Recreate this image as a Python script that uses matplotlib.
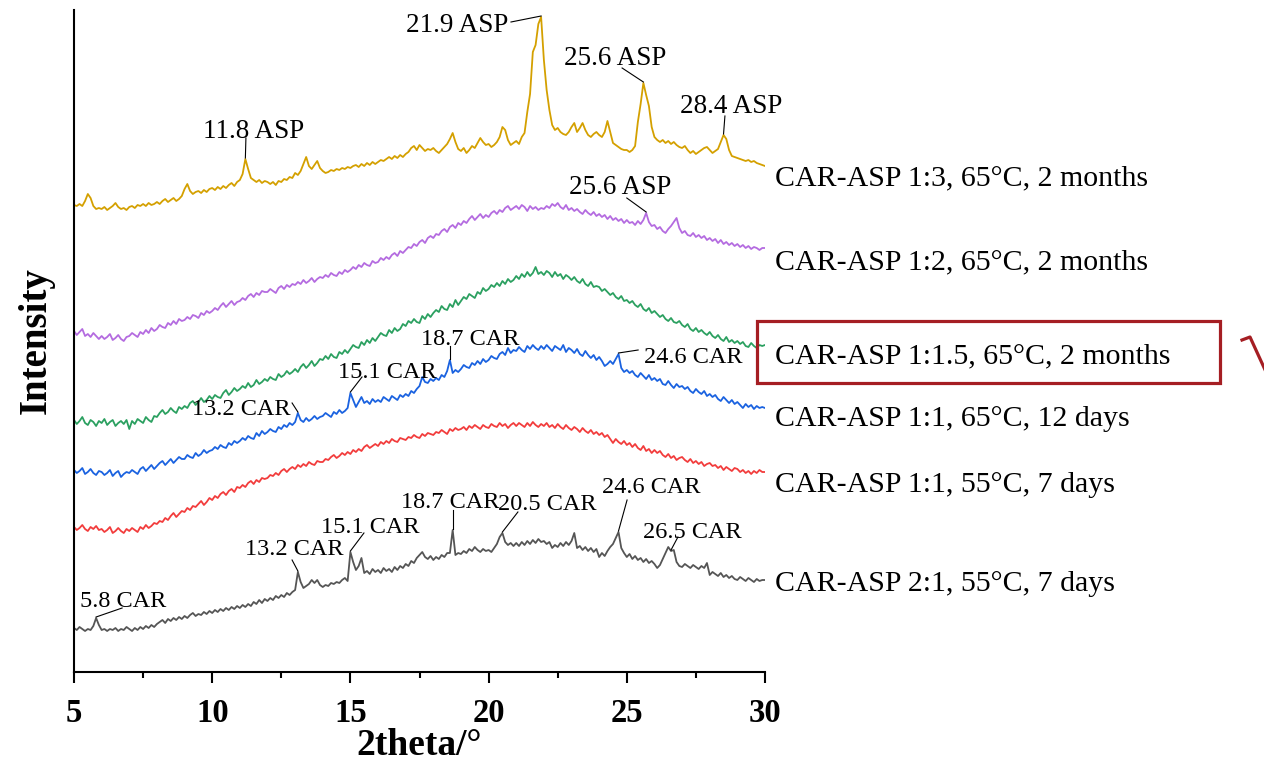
import numpy as np
import matplotlib
matplotlib.use("Agg")
import matplotlib.pyplot as plt
from matplotlib.patches import Rectangle
from matplotlib.lines import Line2D

plt.rcParams['font.family'] = ['Liberation Serif', 'DejaVu Serif']

# scan positions, 2theta from 5 to 30 degrees in 0.1 degree steps
two_theta = np.round(5 + 0.1 * np.arange(251), 1)

# stacked (offset) intensities, one row per degree
car_asp_13 = [
    467, 466, 468, 466, 471, 478, 474, 466, 463, 464,
    463, 465, 462, 464, 466, 469, 465, 463, 464, 462,
    465, 466, 464, 467, 466, 468, 466, 469, 467, 468,
    470, 468, 471, 473, 470, 472, 474, 471, 473, 476,
    483, 488, 481, 478, 480, 481, 479, 482, 480, 483,
    484, 482, 485, 483, 486, 484, 487, 489, 486, 490,
    492, 498, 513, 503, 494, 492, 490, 492, 489, 491,
    490, 488, 490, 487, 491, 490, 493, 492, 495, 494,
    499, 497, 501, 508, 515, 506, 503, 507, 511, 504,
    501, 499, 500, 502, 501, 503, 502, 504, 503, 505,
    504, 506, 507, 505, 508, 506, 509, 507, 510, 508,
    510, 512, 511, 513, 515, 513, 516, 514, 517, 515,
    518, 520, 524, 526, 522, 527, 524, 521, 523, 522,
    524, 521, 519, 522, 525, 528, 533, 539, 530, 523,
    521, 524, 519, 522, 526, 524, 529, 534, 530, 527,
    528, 525, 527, 530, 535, 545, 542, 532, 527, 529,
    531, 528, 535, 539, 560, 578, 620, 627, 648, 655,
    612, 582, 562, 547, 542, 544, 540, 538, 537, 540,
    545, 549, 540, 544, 549, 542, 537, 535, 538, 540,
    537, 535, 540, 551, 540, 529, 527, 525, 523, 522,
    522, 520, 522, 526, 550, 568, 589, 577, 566, 545,
    535, 532, 530, 532, 529, 531, 528, 530, 527, 525,
    524, 526, 522, 519, 521, 518, 520, 522, 524, 525,
    522, 519, 521, 523, 530, 537, 533, 522, 516, 515,
    514, 513, 512, 511, 512, 510, 511, 509, 508, 507,
    506]

car_asp_12 = [
    341, 337, 340, 343, 336, 338, 335, 339, 336, 333,
    336, 333, 335, 338, 332, 334, 337, 333, 331, 335,
    336, 339, 337, 335, 340, 338, 342, 339, 344, 341,
    343, 347, 345, 344, 349, 347, 351, 348, 353, 351,
    352, 355, 353, 357, 356, 354, 359, 357, 361, 359,
    361, 364, 362, 366, 369, 365, 368, 371, 367, 370,
    371, 374, 372, 376, 378, 375, 379, 377, 381, 380,
    380, 383, 381, 379, 384, 386, 383, 387, 385, 388,
    387, 390, 388, 392, 389, 391, 394, 390, 393, 395,
    394, 397, 395, 399, 397, 396, 400, 398, 402, 400,
    402, 405, 403, 407, 405, 409, 407, 406, 411, 409,
    410, 414, 412, 415, 413, 417, 419, 416, 421, 419,
    422, 425, 424, 428, 426, 430, 432, 429, 434, 436,
    434, 438, 437, 441, 443, 440, 445, 447, 444, 449,
    447, 451, 449, 453, 456, 452, 455, 458, 454, 457,
    455, 459, 461, 458, 462, 460, 464, 466, 462, 464,
    466, 463, 467, 465, 461, 466, 463, 465, 462, 464,
    463, 466, 464, 468, 466, 469, 465, 463, 467, 462,
    464, 461, 463, 460, 458, 462, 459, 457, 460, 456,
    458, 455, 457, 453, 456, 452, 454, 451, 453, 449,
    452, 449, 450, 447, 451, 448, 452, 459, 450, 446,
    447, 443, 445, 441, 439, 443, 446, 450, 454, 444,
    439, 441, 437, 436, 439, 435, 437, 434, 436, 432,
    434, 431, 433, 429, 432, 428, 430, 427, 429, 426,
    428, 425, 427, 424, 426, 423, 425, 424, 422, 424,
    424]

car_asp_115 = [
    252, 248, 251, 255, 249, 247, 252, 250, 246, 251,
    249, 253, 247, 250, 252, 246, 249, 251, 248, 252,
    243, 251, 248, 253, 251, 249, 255, 252, 250, 256,
    255, 259, 262, 258, 260, 264, 261, 259, 265, 263,
    266, 264, 269, 271, 267, 270, 274, 270, 272, 276,
    273, 277, 275, 274, 279, 282, 277, 280, 284, 281,
    283, 286, 284, 289, 285, 287, 292, 288, 290, 293,
    291, 295, 293, 292, 298, 295, 297, 301, 298, 300,
    303, 300, 305, 308, 304, 307, 311, 306, 309, 313,
    312, 316, 313, 318, 315, 314, 320, 318, 322, 319,
    323, 327, 325, 324, 330, 327, 332, 329, 334, 331,
    335, 339, 337, 336, 342, 339, 344, 341, 343, 348,
    346, 351, 349, 353, 350, 349, 356, 353, 358, 355,
    359, 362, 360, 366, 363, 362, 368, 365, 372, 367,
    371, 375, 373, 378, 376, 374, 380, 378, 384, 381,
    383, 387, 385, 389, 386, 391, 388, 393, 390, 392,
    396, 393, 398, 395, 400, 396, 399, 405, 398, 400,
    397, 401, 399, 395, 400, 396, 398, 393, 397, 395,
    392, 395, 391, 389, 393, 388, 386, 390, 385, 386,
    385, 381, 383, 380, 377, 379, 375, 373, 376, 371,
    372, 369, 371, 367, 365, 368, 363, 361, 364, 359,
    361, 358, 355, 357, 353, 351, 354, 350, 349, 351,
    347, 345, 348, 343, 341, 344, 340, 342, 339, 337,
    340, 336, 334, 337, 333, 331, 335, 330, 332, 329,
    331, 328, 330, 326, 325, 329, 326, 324, 327, 326,
    327]

car_asp_11_65 = [
    202, 199, 201, 204, 198, 200, 203, 199, 197, 201,
    200, 197, 199, 202, 196, 199, 201, 195, 198, 200,
    199, 202, 200, 198, 203, 205, 201, 204, 207, 203,
    206, 209, 211, 207, 210, 213, 209, 212, 215, 213,
    213, 217, 215, 214, 219, 216, 218, 222, 219, 221,
    222, 225, 223, 227, 225, 224, 229, 227, 231, 229,
    231, 234, 232, 236, 234, 233, 239, 236, 241, 238,
    240, 243, 241, 240, 245, 243, 247, 245, 249, 247,
    250, 259, 252, 250, 254, 251, 253, 256, 253, 255,
    256, 259, 257, 255, 260, 258, 262, 259, 261, 264,
    279, 272, 265, 270, 275, 269, 271, 268, 273, 270,
    272, 270, 275, 273, 271, 276, 274, 272, 277, 275,
    278, 276, 281, 279, 283, 286, 295, 290, 289, 293,
    291, 294, 292, 297, 295, 301, 312, 299, 302, 300,
    303, 307, 305, 304, 309, 307, 311, 308, 313, 310,
    312, 316, 314, 313, 318, 320, 317, 324, 319, 322,
    321, 325, 322, 320, 326, 323, 327, 324, 322, 326,
    323, 327, 324, 321, 326, 324, 322, 327, 320, 324,
    322, 319, 323, 318, 316, 321, 317, 314, 317, 312,
    315, 311, 306, 308, 311, 308, 313, 318, 304, 300,
    302, 299, 301, 297, 295, 299, 296, 293, 297, 292,
    294, 291, 293, 288, 287, 291, 287, 284, 288, 285,
    286, 283, 285, 281, 279, 283, 280, 278, 281, 276,
    278, 275, 277, 273, 271, 275, 272, 269, 272, 268,
    270, 267, 264, 268, 265, 267, 263, 266, 264, 265,
    264]

car_asp_11_55 = [
    145, 142, 144, 147, 143, 141, 145, 143, 146, 142,
    143, 140, 142, 145, 139, 141, 144, 141, 139, 143,
    141, 144, 142, 140, 145, 143, 147, 144, 146, 149,
    148, 151, 150, 154, 152, 156, 159, 155, 158, 161,
    160, 164, 162, 166, 165, 168, 171, 167, 170, 174,
    172, 176, 174, 178, 180, 177, 181, 183, 180, 185,
    184, 187, 185, 189, 191, 188, 192, 190, 194, 193,
    194, 197, 196, 199, 197, 201, 203, 200, 203, 205,
    203, 207, 205, 208, 206, 210, 208, 207, 211, 210,
    210, 213, 212, 215, 217, 214, 216, 219, 217, 220,
    218, 222, 220, 223, 221, 225, 227, 224, 226, 228,
    226, 230, 228, 231, 229, 233, 231, 230, 234, 233,
    232, 235, 234, 237, 235, 234, 238, 236, 239, 238,
    237, 240, 239, 242, 240, 238, 243, 241, 244, 242,
    243, 245, 242, 246, 244, 247, 245, 243, 247, 245,
    244, 248, 246, 245, 249, 246, 248, 244, 247, 249,
    246, 249, 247, 245, 249, 246, 250, 247, 245, 248,
    246, 249, 245, 247, 244, 248, 245, 243, 247, 244,
    242, 245, 243, 240, 244, 241, 239, 242, 238, 240,
    237, 239, 235, 237, 233, 229, 233, 230, 228, 231,
    227, 229, 225, 228, 224, 222, 226, 221, 223, 219,
    222, 219, 221, 217, 215, 218, 214, 216, 212, 214,
    215, 212, 210, 213, 209, 211, 208, 210, 206, 208,
    209, 206, 207, 204, 206, 202, 205, 203, 201, 204,
    203, 200, 202, 199, 201, 198, 201, 199, 202, 200,
    200]

car_asp_21 = [
    44, 42, 45, 43, 41, 43, 42, 46, 54, 47,
    42, 43, 41, 43, 42, 44, 41, 43, 42, 45,
    43, 41, 44, 42, 45, 43, 46, 44, 47, 45,
    48, 50, 52, 49, 53, 51, 54, 52, 55, 53,
    56, 54, 57, 59, 56, 58, 57, 60, 58, 61,
    59, 62, 60, 63, 61, 64, 62, 65, 63, 66,
    64, 67, 65, 68, 66, 70, 68, 72, 69, 73,
    71, 74, 72, 76, 74, 77, 75, 79, 77, 80,
    82, 100, 90, 84, 86, 88, 92, 89, 92, 87,
    85, 87, 86, 89, 88, 90, 89, 92, 94, 91,
    120, 110, 102, 106, 114, 99, 101, 98, 103, 100,
    102, 99, 104, 101, 103, 100, 105, 102, 106, 104,
    108, 106, 111, 109, 114, 117, 120, 115, 113, 116,
    112, 115, 113, 117, 115, 119, 119, 142, 117, 119,
    118, 121, 119, 123, 121, 125, 122, 120, 123, 121,
    122, 120, 124, 128, 135, 139, 130, 127, 129, 126,
    129, 126, 130, 127, 131, 128, 132, 129, 133, 130,
    131, 128, 130, 124, 127, 125, 129, 126, 130, 127,
    131, 139, 124, 126, 122, 125, 121, 124, 120, 123,
    115, 119, 116, 121, 125, 128, 134, 140, 124, 119,
    115, 118, 113, 116, 112, 114, 110, 113, 109, 111,
    108, 104, 107, 113, 119, 125, 121, 122, 110, 106,
    105, 108, 106, 104, 107, 105, 103, 106, 104, 109,
    97, 100, 98, 96, 99, 95, 97, 94, 96, 93,
    92, 95, 93, 91, 94, 92, 90, 93, 91, 92,
    92]

series = [car_asp_13, car_asp_12, car_asp_115, car_asp_11_65, car_asp_11_55, car_asp_21]
series_names = [
    "CAR-ASP 1:3, 65°C, 2 months",
    "CAR-ASP 1:2, 65°C, 2 months",
    "CAR-ASP 1:1.5, 65°C, 2 months",
    "CAR-ASP 1:1, 65°C, 12 days",
    "CAR-ASP 1:1, 55°C, 7 days",
    "CAR-ASP 2:1, 55°C, 7 days",
]
series_colors = ["#D4A000", "#B46BE0", "#2BA060", "#1A62E0", "#F23C3C", "#555555"]

# peak annotations: (series index, label, peak position)
peak_labels = [
    (0, "11.8 ASP", 11.2), (0, "21.9 ASP", 21.9), (0, "25.6 ASP", 25.6), (0, "28.4 ASP", 28.5),
    (1, "25.6 ASP", 25.7),
    (3, "13.2 CAR", 13.1), (3, "15.1 CAR", 15.0), (3, "18.7 CAR", 18.6), (3, "24.6 CAR", 24.7),
    (5, "5.8 CAR", 5.8), (5, "13.2 CAR", 13.1), (5, "15.1 CAR", 15.0), (5, "18.7 CAR", 18.7),
    (5, "20.5 CAR", 20.5), (5, "24.6 CAR", 24.7), (5, "26.5 CAR", 26.6),
]
# where each label sits (centre x, baseline y) and where its leader line starts
label_places = [
    (11.49, 534, 11.22, 534), (18.87, 640, 20.81, 650), (24.59, 607, 24.83, 604), (28.77, 559, 28.55, 556),
    (24.75, 478, 25.0, 474),
    (11.06, 257, 12.89, 269), (16.32, 294, 15.42, 295), (19.34, 327, 18.6, 326), (27.41, 309, 25.41, 322),
    (6.79, 65, 6.74, 64), (12.96, 117, 12.89, 112), (15.73, 139, 15.49, 139), (18.60, 164, 18.7, 162),
    (22.13, 162, 21.06, 160), (25.89, 179, 25.01, 172), (27.38, 134, 26.85, 135),
]
name_baselines = [487, 403, 309, 246, 180, 81]

W, H = 1264, 769
fig = plt.figure(figsize=(W / 100, H / 100), dpi=100)
ax = fig.add_axes([74 / W, 1 - 672 / H, (765 - 74) / W, (672 - 10) / H])

for vals, col in zip(series, series_colors):
    ax.plot(two_theta, vals, color=col, lw=1.3, solid_joinstyle='round')

for (idx, text, peak), (tx, ty, lx, ly) in zip(peak_labels, label_places):
    size = 19.5 if "ASP" in text else 17.5
    ax.text(tx, ty, text, ha='center', va='baseline', fontsize=size, color='black')
    py = np.interp(peak, two_theta, series[idx]) + 1
    ax.plot([lx, peak], [ly, py], color='black', lw=0.8)

for name, yb in zip(series_names, name_baselines):
    ax.text(30.36, yb, name, ha='left', va='baseline', fontsize=21.5, color='black', clip_on=False)

ax.set_xlim(5, 30)
ax.set_ylim(0, 662)
ax.set_yticks([])
ax.set_xticks([5, 10, 15, 20, 25, 30])
ax.set_xticks([7.5, 12.5, 17.5, 22.5, 27.5], minor=True)
ax.tick_params(axis='x', which='major', direction='out', length=8, width=1.5, pad=11,
               labelsize=23.5)
ax.tick_params(axis='x', which='minor', direction='out', length=4, width=1.5)
for lab in ax.get_xticklabels():
    lab.set_fontweight('bold')
for side in ('top', 'right'):
    ax.spines[side].set_visible(False)
for side in ('left', 'bottom'):
    ax.spines[side].set_linewidth(1.5)
ax.set_xlabel("2theta/°", fontsize=27, fontweight='bold', labelpad=-1)
ax.set_ylabel("Intensity", fontsize=28, fontweight='bold', labelpad=14)

# highlight frame around one sample name
fig.patches.append(Rectangle((757 / W, 1 - 383 / H), (1220 - 757) / W, (383 - 321) / H,
                             transform=fig.transFigure, fill=False, edgecolor='#A51E23', lw=2.3))
fig.lines.append(Line2D([1242 / W, 1250 / W, 1272 / W], [1 - 340 / H, 1 - 337 / H, 1 - 385 / H],
                        transform=fig.transFigure, color='#A51E23', lw=2.3))

fig.savefig("out.png", dpi=100)
